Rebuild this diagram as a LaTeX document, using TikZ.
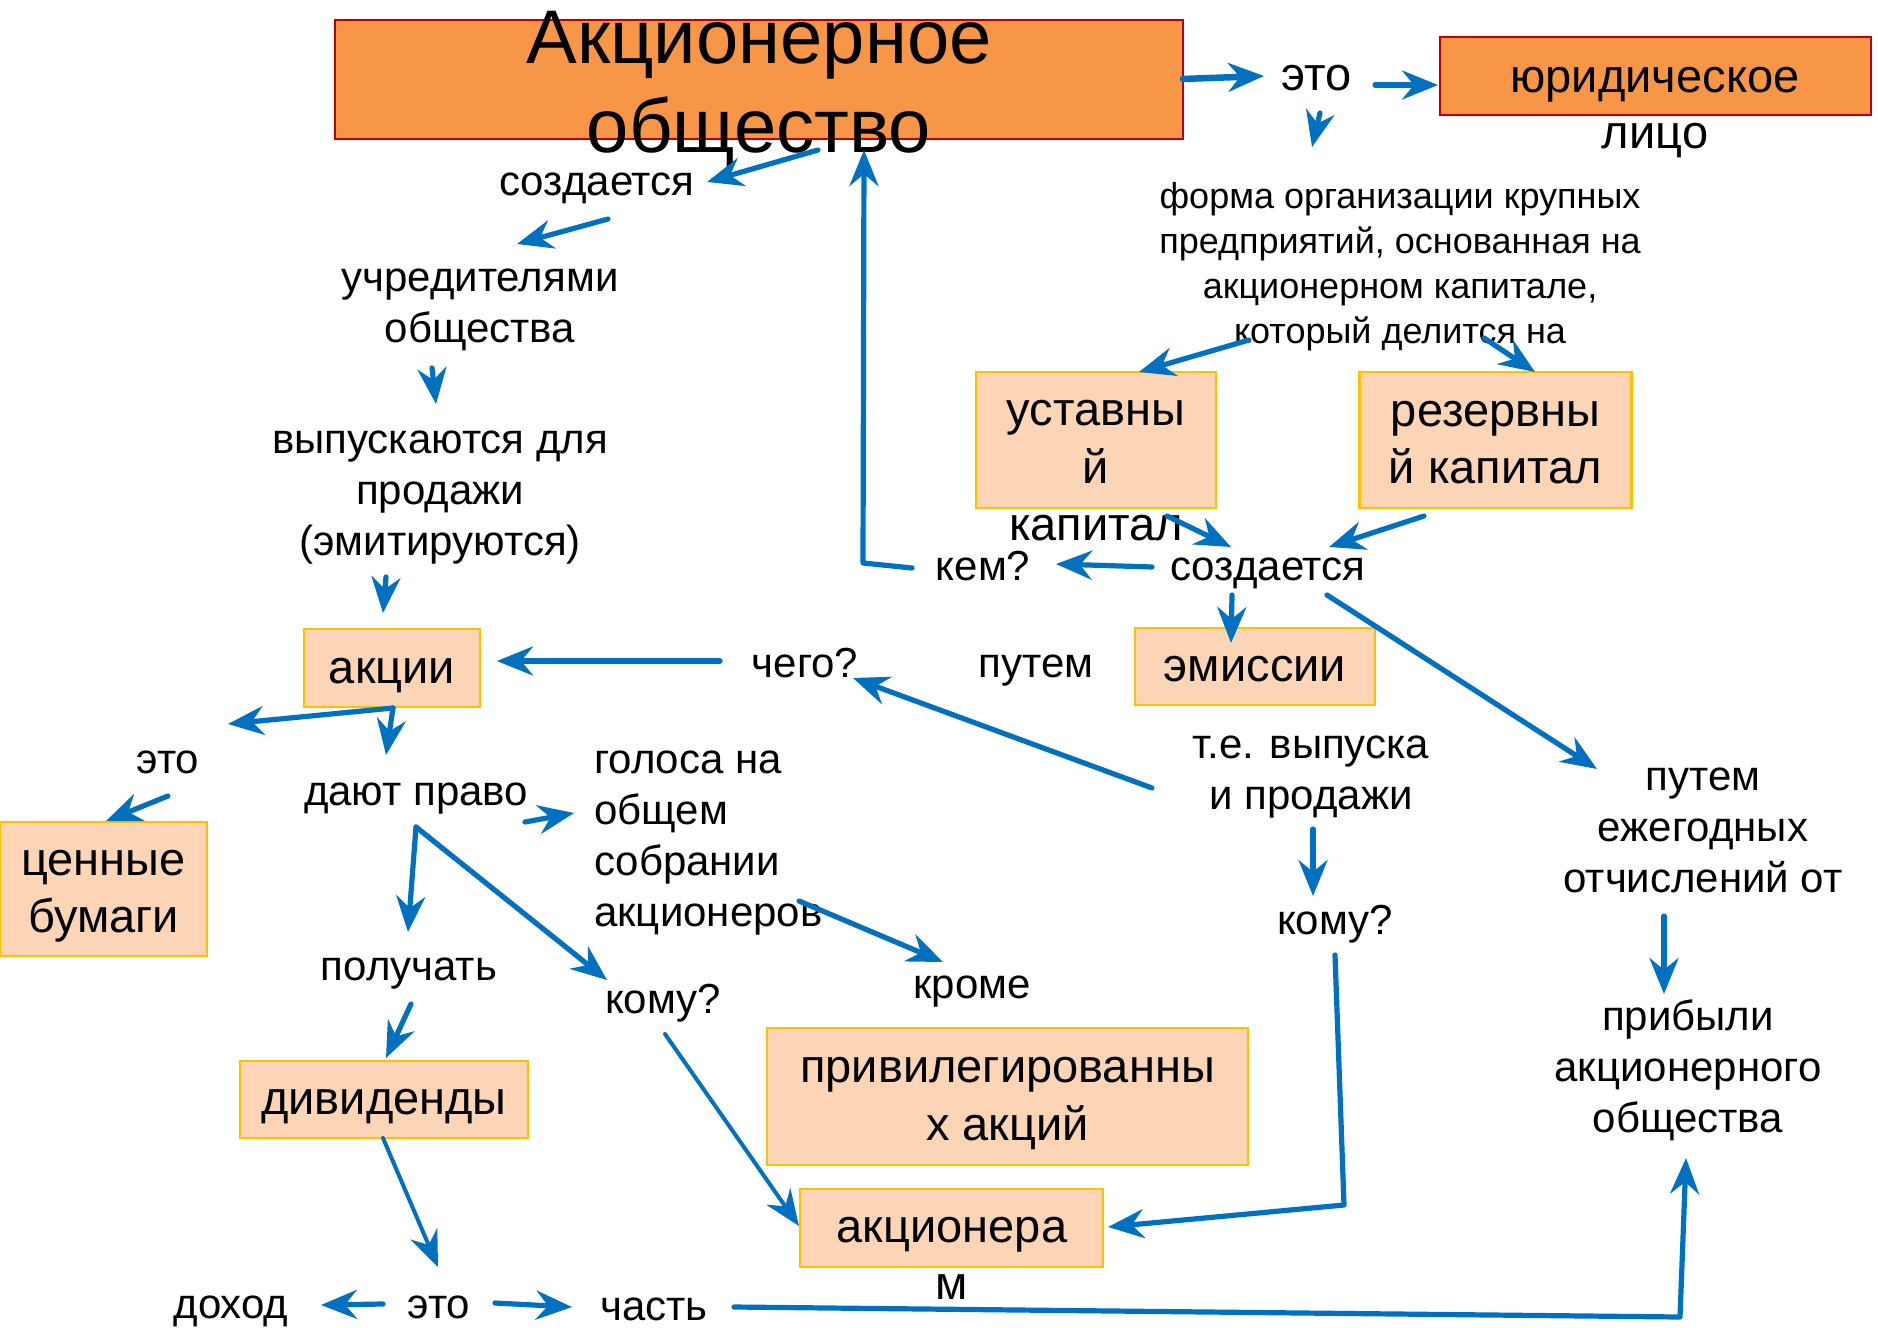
\documentclass[tikz,border=0pt]{standalone}
\usepackage{fontspec}
\setmainfont{Liberation Sans}
\usetikzlibrary{arrows.meta}
\definecolor{ablue}{HTML}{0070C0}
\definecolor{tfill}{HTML}{F79646}
\definecolor{tborder}{HTML}{C00000}
\definecolor{bfill}{HTML}{FBD5B5}
\definecolor{bborder}{HTML}{FFC000}
\newcommand\topstrt{\vrule width0pt height0.85em depth0pt\relax}
\newcommand\botstrt{\vrule width0pt height0pt depth0.36em\relax}
\newcommand\boxtop{\vrule width0pt height1.0em depth0pt\relax}
\begin{document}
\begin{tikzpicture}[x=1pt,y=-1pt,
  arr/.style={draw=ablue, line width=5.2pt, line cap=round, line join=round,
    -{Stealth[length=36pt,width=29pt,inset=12pt]}},
  fa/.style={font=\fontsize{42}{51}\selectfont},
  fb/.style={font=\fontsize{47}{56}\selectfont},
  fc/.style={font=\fontsize{36}{45}\selectfont},
  lbl/.style={inner sep=0pt, anchor=base},
  ml/.style={inner sep=0pt, anchor=north, align=center},
  tbox/.style={draw=tborder, fill=tfill, line width=2.5pt, inner sep=0pt},
  pbox/.style={draw=bborder, fill=bfill, line width=2.5pt, inner sep=0pt,
    align=center, font=\fontsize{47}{57.5}\selectfont},
]
\useasboundingbox (0,0) rectangle (1878,1327);

% ---------- boxes ----------
\node[tbox, minimum width=848, minimum height=119] (ao) at (759,79.5) {};
\node[tbox, minimum width=431, minimum height=78] (ul) at (1655.5,76) {};
\node[pbox, minimum width=240, minimum height=136] (ust) at (1096,440) {};
\node[pbox, minimum width=272, minimum height=136] (rez) at (1495.5,440) {\boxtop резервны\\й капитал\botstrt};
\node[pbox, minimum width=176, minimum height=78] (akc) at (392,668) {\boxtop акции\botstrt};
\node[pbox, minimum width=240, minimum height=77] (emi) at (1255,666.5) {\boxtop эмиссии\botstrt};
\node[pbox, minimum width=207, minimum height=134] (cb) at (103.5,889) {\boxtop ценные\\бумаги\botstrt};
\node[pbox, minimum width=288, minimum height=77] (div) at (384,1099.5) {\boxtop дивиденды\botstrt};
\node[pbox, minimum width=481, minimum height=137] (priv) at (1007.5,1096.5) {\boxtop привилегированны\\х акций\botstrt};
\node[pbox, minimum width=303, minimum height=78] (akn) at (951.5,1228) {};

% ---------- texts ----------
\node[ml, font=\fontsize{76}{89}\selectfont] (aot) at (759,-1.6) {\topstrt Акционерное\\общество};
\node[ml, font=\fontsize{47}{56}\selectfont] (ult) at (1655,52) {\topstrt юридическое\\лицо};
\node[lbl, fb] (eto1) at (1317,91) {это};
\node[ml, fc] (form) at (1400,178) {\topstrt форма организации крупных\\предприятий, основанная на\\акционерном капитале,\\который делится на};
\node[ml, font=\fontsize{47}{57.5}\selectfont] (ustt) at (1096,385.5) {\topstrt уставны\\й\\капитал};
\node[lbl, fa] (sozd2) at (1268,580) {создается};
\node[lbl, fa] (kem) at (983,580) {кем?};
\node[lbl, fa] (sozd1) at (597,195) {создается};
\node[ml, fa] (uchr) at (480,255.3) {\topstrt учредителями\\общества};
\node[ml, fa] (vyp) at (440,417.3) {\topstrt выпускаются для\\продажи\\(эмитируются)};
\node[lbl, fa] (chego) at (805,677) {чего?};
\node[lbl, fa] (putem1) at (1036,677) {путем};
\node[ml, fa] (te) at (1311,722.3) {\topstrt т.е. выпуска\\и продажи};
\node[lbl, fa] (komu2) at (1335,934) {кому?};
\node[ml, font=\fontsize{47}{57}\selectfont] (aknt) at (952,1202) {\topstrt акционера\\м};
\node[ml, fa] (putem2) at (1703,754.3) {\topstrt путем\\ежегодных\\отчислений от};
\node[ml, fa] (prib) at (1688,994.3) {\topstrt прибыли\\акционерного\\общества};
\node[lbl, fa] (chast) at (654,1320) {часть};
\node[lbl, fa] (eto3) at (439,1318) {это};
\node[lbl, fa] (dohod) at (231,1318) {доход};
\node[lbl, fa] (poluch) at (409,980) {получать};
\node[lbl, fa] (daut) at (416,805) {дают право};
\node[ml, fa, anchor=north west, align=left] (golos) at (594,737.3) {\topstrt голоса на\\общем\\собрании\\акционеров};
\node[lbl, fa] (krome) at (972,998) {кроме};
\node[lbl, fa] (komu1) at (663,1013) {кому?};
\node[lbl, fa] (eto2) at (168,773) {это};

% ---------- connector end points ----------
\coordinate (c1s) at (1183,79);   \coordinate (c1e) at (1264,76);
\coordinate (c2s) at (1375,85);   \coordinate (c2e) at (1438,85);
\coordinate (c3s) at (1320,113);  \coordinate (c3e) at (1312,147);
\coordinate (c4s) at (1249,340);  \coordinate (c4e) at (1139,372);
\coordinate (c5s) at (1484,338);  \coordinate (c5e) at (1535,372);
\coordinate (c6s) at (1167,516);  \coordinate (c6e) at (1231,547);
\coordinate (c7s) at (1424,516);  \coordinate (c7e) at (1329,547);
\coordinate (c8s) at (1152,567);  \coordinate (c8e) at (1056,564);
\coordinate (c9s) at (912,568);   \coordinate (c9m) at (863,563);  \coordinate (c9e) at (864,150);
\coordinate (c10s) at (818,150);  \coordinate (c10e) at (707,182);
\coordinate (c11s) at (608,219);  \coordinate (c11e) at (517,244);
\coordinate (c12s) at (432,368);  \coordinate (c12e) at (436,404);
\coordinate (c13s) at (386,577);  \coordinate (c13e) at (383,613);
\coordinate (c14s) at (720,661);  \coordinate (c14e) at (497,661);
\coordinate (c15s) at (1152,788); \coordinate (c15e) at (853,678);
\coordinate (c16s) at (1232,595); \coordinate (c16e) at (1231,643);
\coordinate (c17s) at (1327,595); \coordinate (c17e) at (1597,769);
\coordinate (c18s) at (1313,829); \coordinate (c18e) at (1313,896);
\coordinate (c19s) at (1335,955); \coordinate (c19m) at (1344,1205); \coordinate (c19e) at (1108,1227);
\coordinate (c20s) at (1664,916); \coordinate (c20e) at (1664,994);
\coordinate (c21s) at (734,1307); \coordinate (c21m) at (1680,1317); \coordinate (c21e) at (1686,1158);
\coordinate (c22s) at (383,1304); \coordinate (c22e) at (321,1305);
\coordinate (c23s) at (495,1303); \coordinate (c23e) at (572,1307);
\coordinate (c24s) at (383,1138); \coordinate (c24e) at (438,1267);
\coordinate (c25s) at (411,1004); \coordinate (c25e) at (386,1058);
\coordinate (c26s) at (416,827);  \coordinate (c26e) at (408,932);
\coordinate (c27e) at (607,980);
\coordinate (c28s) at (525,822);  \coordinate (c28e) at (574,813);
\coordinate (c29s) at (799,901);  \coordinate (c29e) at (943,962);
\coordinate (c30s) at (665,1034); \coordinate (c30e) at (799,1226);
\coordinate (c31s) at (393,708);  \coordinate (c31e) at (228,724);
\coordinate (c32e) at (386,755);
\coordinate (c33s) at (168,796);  \coordinate (c33e) at (106,821);

% ---------- connectors ----------
\draw[arr, line width=6.5pt] (c1s) -- (c1e);
\draw[arr] (c2s) -- (c2e);
\draw[arr] (c3s) -- (c3e);
\draw[arr] (c4s) -- (c4e);
\draw[arr] (c5s) -- (c5e);
\draw[arr] (c6s) -- (c6e);
\draw[arr] (c7s) -- (c7e);
\draw[arr] (c8s) -- (c8e);
\draw[arr] (c9s) -- (c9m) -- (c9e);
\draw[arr] (c10s) -- (c10e);
\draw[arr] (c11s) -- (c11e);
\draw[arr] (c12s) -- (c12e);
\draw[arr] (c13s) -- (c13e);
\draw[arr] (c14s) -- (c14e);
\draw[arr] (c15s) -- (c15e);
\draw[arr] (c16s) -- (c16e);
\draw[arr] (c17s) -- (c17e);
\draw[arr] (c18s) -- (c18e);
\draw[arr] (c19s) -- (c19m) -- (c19e);
\draw[arr] (c20s) -- (c20e);
\draw[arr] (c21s) -- (c21m) -- (c21e);
\draw[arr] (c22s) -- (c22e);
\draw[arr] (c23s) -- (c23e);
\draw[arr, line width=4pt] (c24s) -- (c24e);
\draw[arr] (c25s) -- (c25e);
\draw[arr] (c26s) -- (c26e);
\draw[arr] (c26s) -- (c27e);
\draw[arr] (c28s) -- (c28e);
\draw[arr] (c29s) -- (c29e);
\draw[arr, line width=4pt] (c30s) -- (c30e);
\draw[arr] (c31s) -- (c31e);
\draw[arr] (c31s) -- (c32e);
\draw[arr] (c33s) -- (c33e);
\end{tikzpicture}
\end{document}
